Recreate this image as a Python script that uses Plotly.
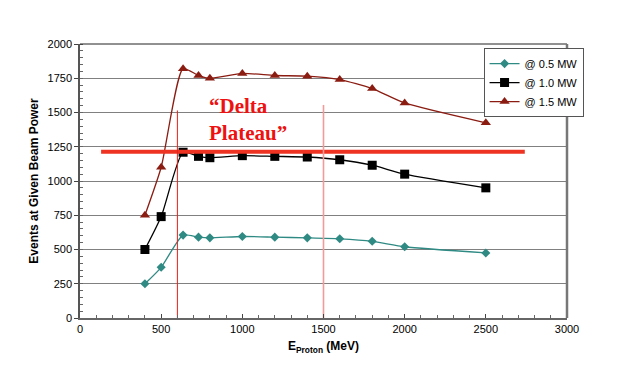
import plotly.graph_objects as go

# proton energy (MeV) and events at given beam power
energy = [400, 500, 635, 730, 800, 1000, 1200, 1400, 1600, 1800, 2000, 2500]
events_05 = [250, 370, 605, 590, 585, 595, 590, 585, 578, 560, 520, 475]
events_10 = [500, 740, 1210, 1180, 1170, 1185, 1180, 1175, 1155, 1115, 1050, 950]
events_15 = [750, 1100, 1820, 1770, 1750, 1785, 1770, 1765, 1740, 1675, 1570, 1425]

series_names = ["@ 0.5 MW", "@ 1.0 MW", "@ 1.5 MW"]

# "Delta plateau" guides
plateau_level = 1213
plateau_x = [130, 2740]
delta_start = 600
delta_end = 1500
delta_start_top = 1515
delta_end_top = 1555

fig = go.Figure()

styles = [
    dict(color="#2f8a84", symbol="diamond", size=7),
    dict(color="#000000", symbol="square", size=9),
    dict(color="#8b1c12", symbol="triangle-up", size=9),
]
for name, y, st in zip(series_names, [events_05, events_10, events_15], styles):
    fig.add_trace(go.Scatter(
        x=energy, y=y, name=name, mode="lines+markers",
        line=dict(color=st["color"], width=1.3, shape="spline", smoothing=0.6),
        marker=dict(color=st["color"], symbol=st["symbol"], size=st["size"]),
    ))

# thick horizontal plateau line
fig.add_trace(go.Scatter(
    x=plateau_x, y=[plateau_level, plateau_level], mode="lines",
    line=dict(color="#ee3322", width=4), showlegend=False, hoverinfo="skip",
))
# vertical markers
fig.add_trace(go.Scatter(
    x=[delta_start, delta_start], y=[0, delta_start_top], mode="lines",
    line=dict(color="#e8201a", width=1), showlegend=False, hoverinfo="skip",
))
fig.add_trace(go.Scatter(
    x=[delta_end, delta_end], y=[0, delta_end_top], mode="lines",
    line=dict(color="#f49a9a", width=1.6), showlegend=False, hoverinfo="skip",
))

fig.add_annotation(
    x=780, y=1450, xanchor="left", yanchor="middle", showarrow=False, align="left",
    text="<b>\u201cDelta<br>Plateau\u201d</b>",
    font=dict(family="Liberation Serif", size=21, color="#ee1111"),
)

# plot frame: top thin black, right thick gray
fig.add_shape(type="line", xref="paper", yref="paper", x0=0, x1=1, y0=1, y1=1,
              line=dict(color="#222222", width=1))
fig.add_shape(type="line", xref="paper", yref="paper", x0=1, x1=1, y0=0, y1=1,
              line=dict(color="#777777", width=2.5))

axis_font = dict(family="Liberation Sans", size=11, color="#000000")

fig.update_xaxes(
    range=[0, 3000], dtick=500, showgrid=False, zeroline=False, automargin=False,
    showline=True, linecolor="#666666", linewidth=1.5,
    ticks="inside", ticklen=4, tickcolor="#444444",
    minor=dict(ticks="inside", dtick=100, ticklen=3, tickcolor="#666666"),
    tickfont=axis_font,
    title=dict(text="<b>E<sub>Proton</sub> (MeV)</b>", font=dict(family="Liberation Sans", size=12, color="#000"), standoff=8),
)
fig.update_yaxes(
    range=[0, 2000], dtick=250, showgrid=True, gridcolor="#808080", gridwidth=1,
    zeroline=False, showline=True, linecolor="#555555", linewidth=1.5, automargin=False,
    ticks="outside", ticklen=4, tickcolor="#444444",
    minor=dict(ticks="inside", dtick=50, ticklen=3, tickcolor="#666666", showgrid=False),
    tickfont=axis_font,
    title=dict(text="<b>Events at Given Beam Power</b>", font=dict(family="Liberation Sans", size=12, color="#000"), standoff=6),
)

# the page body adds an 8px offset, so the figure is slightly smaller than the window
fig.update_layout(
    width=615, height=375,
    margin=dict(l=72, r=56, t=36, b=65, autoexpand=False),
    paper_bgcolor="white", plot_bgcolor="white",
    font=dict(family="Liberation Sans", color="#000"),
    legend=dict(
        x=1.034, y=0.985, xanchor="right", yanchor="top",
        bgcolor="white", bordercolor="#555555", borderwidth=1,
        font=dict(family="Liberation Sans", size=11, color="#000"),
        tracegroupgap=0, itemwidth=30,
    ),
    showlegend=True,
)

fig.write_html("out.html")
